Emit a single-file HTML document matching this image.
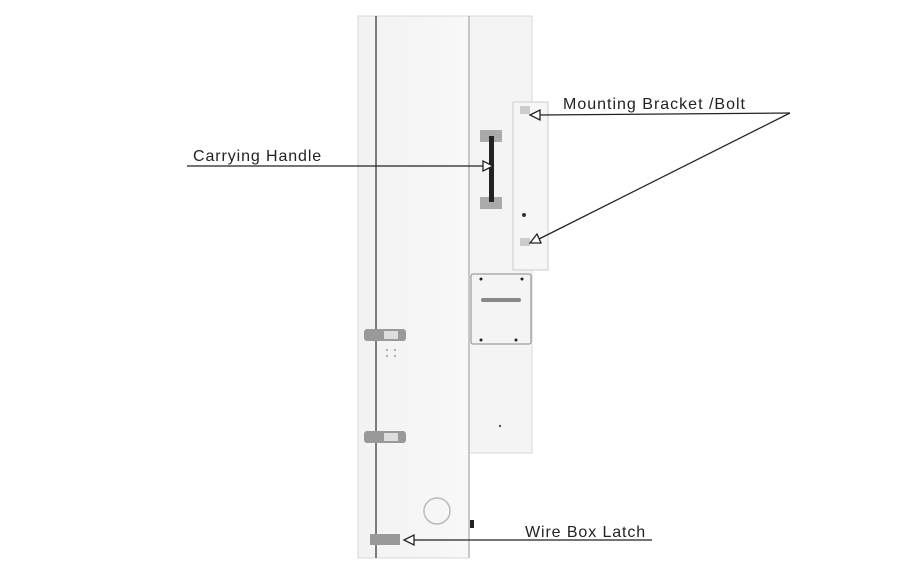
<!DOCTYPE html>
<html><head><style>
body{margin:0;width:899px;height:581px;background:#fff;position:relative;overflow:hidden;font-family:"Liberation Sans",sans-serif}
</style></head><body>
<svg width="899" height="581" style="position:absolute;left:0;top:0">
<defs><linearGradient id="g" x1="0" x2="1"><stop offset="0" stop-color="#f2f2f2"/><stop offset="1" stop-color="#f8f8f8"/></linearGradient></defs>
<rect x="469" y="16" width="63" height="437" fill="#f4f4f4" stroke="#d8d8d8"/>
<rect x="358" y="16" width="111" height="542" fill="url(#g)" stroke="#d8d8d8"/>
<line x1="376" y1="16" x2="376" y2="558" stroke="#555" stroke-width="1.5"/>
<line x1="469" y1="16" x2="469" y2="558" stroke="#999"/>
<rect x="513" y="102" width="35" height="168" fill="#f6f6f6" stroke="#ccc"/>
<rect x="520" y="106" width="10" height="8" fill="#ccc"/>
<rect x="520" y="238" width="10" height="8" fill="#ccc"/>
<circle cx="524" cy="215" r="2" fill="#333"/>
<rect x="471" y="274" width="60" height="70" fill="#f4f4f4" stroke="#888" rx="2"/>
<rect x="481" y="298" width="40" height="4" fill="#888" rx="2"/>
<circle cx="481" cy="279" r="1.5" fill="#222"/><circle cx="522" cy="279" r="1.5" fill="#222"/>
<circle cx="481" cy="340" r="1.5" fill="#222"/><circle cx="516" cy="340" r="1.5" fill="#222"/>
<circle cx="500" cy="426" r="1.2" fill="#555"/>
<rect x="480" y="130" width="22" height="12" fill="#aaa"/>
<rect x="480" y="197" width="22" height="12" fill="#aaa"/>
<rect x="489" y="136" width="5" height="66" fill="#222"/>
<rect x="364" y="329" width="42" height="12" fill="#999" rx="3"/>
<rect x="384" y="331" width="14" height="8" fill="#ddd"/>
<rect x="364" y="431" width="42" height="12" fill="#999" rx="3"/>
<rect x="384" y="433" width="14" height="8" fill="#ddd"/>
<rect x="370" y="534" width="30" height="11" fill="#999"/>
<circle cx="437" cy="511" r="13" fill="none" stroke="#bbb" stroke-width="1.5"/>
<rect x="470" y="520" width="4" height="8" fill="#222"/>
<g fill="#999"><circle cx="387" cy="350" r="1"/><circle cx="395" cy="350" r="1"/><circle cx="387" cy="356" r="1"/><circle cx="395" cy="356" r="1"/></g>
<g stroke="#222" stroke-width="1.3" fill="#fff">
<line x1="187" y1="166" x2="486" y2="166"/>
<polygon points="493,166 483,161 483,171"/>
<line x1="790" y1="113" x2="538" y2="115"/>
<polygon points="530,115 540,110 540,120"/>
<line x1="790" y1="113" x2="537" y2="240"/>
<polygon points="530,243 537,234 541,243"/>
<line x1="652" y1="540" x2="412" y2="540"/>
<polygon points="404,540 414,535 414,545"/>
</g>
<g font-size="16" fill="#222" letter-spacing="0.9">
<text x="193" y="161">Carrying Handle</text>
<text x="563" y="109" letter-spacing="1.0">Mounting Bracket /Bolt</text>
<text x="525" y="537">Wire Box Latch</text>
</g>
</svg>
</body></html>
